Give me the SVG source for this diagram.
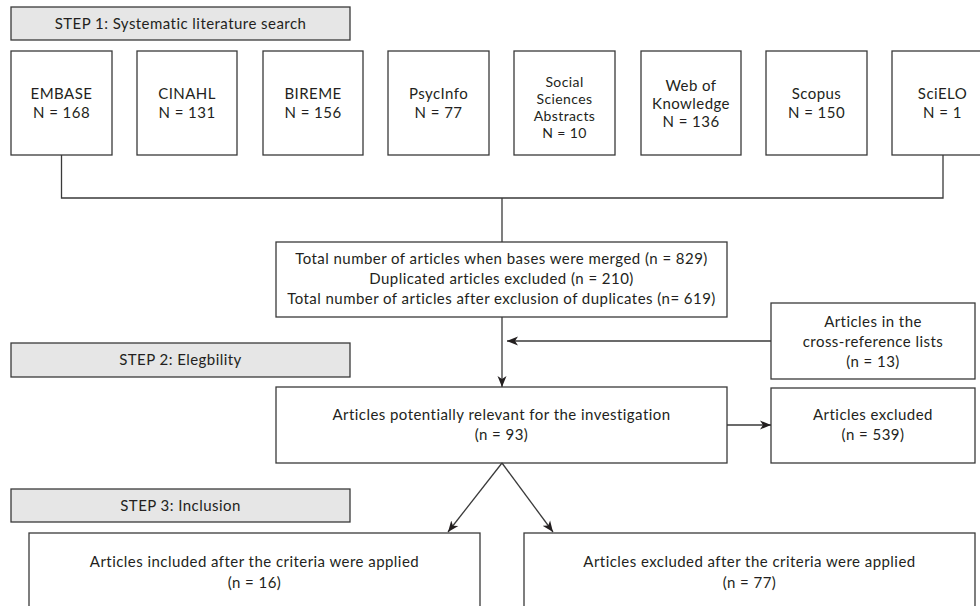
<svg xmlns="http://www.w3.org/2000/svg" width="980" height="606" viewBox="0 0 980 606">
<style>
.bg{fill:#ffffff}
.box{fill:#ffffff;stroke:#3a3a3a;stroke-width:1.3}
.hdr{fill:#e6e6e6;stroke:#3a3a3a;stroke-width:1.3}
.t{font-family:Lato,"Liberation Sans",sans-serif;font-size:15px;fill:#231f20;text-anchor:middle;font-weight:400;letter-spacing:0.45px}
.s{font-size:14px;letter-spacing:0.4px}
.ln{fill:none;stroke:#3a3a3a;stroke-width:1.3}
</style>
<defs>
<marker id="ah" markerUnits="userSpaceOnUse" markerWidth="12" markerHeight="10" refX="11" refY="5" orient="auto">
<path d="M0,0.5 L11,5 L0,9.5 L3,5 Z" fill="#231f20"/>
</marker>
</defs>
<rect class="bg" x="0" y="0" width="980" height="606"/>

<g id="step1">
<rect class="hdr" x="11" y="7" width="339" height="33"/>
<text class="t" x="180.5" y="29">STEP 1: Systematic literature search</text>
</g>

<g id="embase">
<rect class="box" x="11" y="51" width="101" height="104"/>
<text class="t" x="61.5" y="99">EMBASE</text>
<text class="t" x="61.5" y="118">N = 168</text>
</g>
<g id="cinahl">
<rect class="box" x="137" y="51" width="100" height="104"/>
<text class="t" x="187" y="99">CINAHL</text>
<text class="t" x="187" y="118">N = 131</text>
</g>
<g id="bireme">
<rect class="box" x="263" y="51" width="100" height="104"/>
<text class="t" x="313" y="99">BIREME</text>
<text class="t" x="313" y="118">N = 156</text>
</g>
<g id="psycinfo">
<rect class="box" x="388" y="51" width="101" height="104"/>
<text class="t" x="438.5" y="99">PsycInfo</text>
<text class="t" x="438.5" y="118">N = 77</text>
</g>
<g id="social">
<rect class="box" x="514" y="51" width="101" height="104"/>
<text class="t s" x="564.5" y="87">Social</text>
<text class="t s" x="564.5" y="104">Sciences</text>
<text class="t s" x="564.5" y="121">Abstracts</text>
<text class="t s" x="564.5" y="138">N = 10</text>
</g>
<g id="wok">
<rect class="box" x="641" y="51" width="100" height="104"/>
<text class="t" x="691" y="91">Web of</text>
<text class="t" x="691" y="109">Knowledge</text>
<text class="t" x="691" y="127">N = 136</text>
</g>
<g id="scopus">
<rect class="box" x="766" y="51" width="101" height="104"/>
<text class="t" x="816.5" y="99">Scopus</text>
<text class="t" x="816.5" y="118">N = 150</text>
</g>
<g id="scielo">
<rect class="box" x="892" y="51" width="101" height="104"/>
<text class="t" x="942.5" y="99">SciELO</text>
<text class="t" x="942.5" y="118">N = 1</text>
</g>

<g id="merged">
<rect class="box" x="276" y="242" width="451" height="75"/>
<text class="t" x="501.5" y="264">Total number of articles when bases were merged (n = 829)</text>
<text class="t" x="501.5" y="284">Duplicated articles excluded (n = 210)</text>
<text class="t" x="501.5" y="304">Total number of articles after exclusion of duplicates (n= 619)</text>
</g>

<g id="crossref">
<rect class="box" x="771" y="303" width="204" height="76"/>
<text class="t" x="873" y="327">Articles in the</text>
<text class="t" x="873" y="347">cross-reference lists</text>
<text class="t" x="873" y="367">(n = 13)</text>
</g>

<g id="step2">
<rect class="hdr" x="11" y="343" width="339" height="34"/>
<text class="t" x="180.5" y="365">STEP 2: Elegbility</text>
</g>

<g id="potential">
<rect class="box" x="276" y="387" width="451" height="76"/>
<text class="t" x="501.5" y="420">Articles potentially relevant for the investigation</text>
<text class="t" x="501.5" y="440">(n = 93)</text>
</g>

<g id="excluded">
<rect class="box" x="771" y="388" width="204" height="75"/>
<text class="t" x="873" y="420">Articles excluded</text>
<text class="t" x="873" y="440">(n = 539)</text>
</g>

<g id="step3">
<rect class="hdr" x="11" y="489" width="339" height="33"/>
<text class="t" x="180.5" y="511">STEP 3: Inclusion</text>
</g>

<g id="included">
<rect class="box" x="29" y="533" width="451" height="90"/>
<text class="t" x="254.5" y="567">Articles included after the criteria were applied</text>
<text class="t" x="254.5" y="588">(n = 16)</text>
</g>

<g id="excludedafter">
<rect class="box" x="524" y="533" width="451" height="90"/>
<text class="t" x="749.5" y="567">Articles excluded after the criteria were applied</text>
<text class="t" x="749.5" y="588">(n = 77)</text>
</g>

<g id="connectors">
<polyline class="ln" points="61.5,155 61.5,198 943,198 943,155"/>
<line class="ln" x1="502" y1="198" x2="502" y2="242"/>
<line class="ln" x1="502" y1="317" x2="502" y2="387" marker-end="url(#ah)"/>
<line class="ln" x1="771" y1="341" x2="507" y2="341" marker-end="url(#ah)"/>
<line class="ln" x1="727" y1="425" x2="771" y2="425" marker-end="url(#ah)"/>
<line class="ln" x1="502" y1="463" x2="448" y2="532" marker-end="url(#ah)"/>
<line class="ln" x1="502" y1="463" x2="553" y2="532" marker-end="url(#ah)"/>
</g>
</svg>
